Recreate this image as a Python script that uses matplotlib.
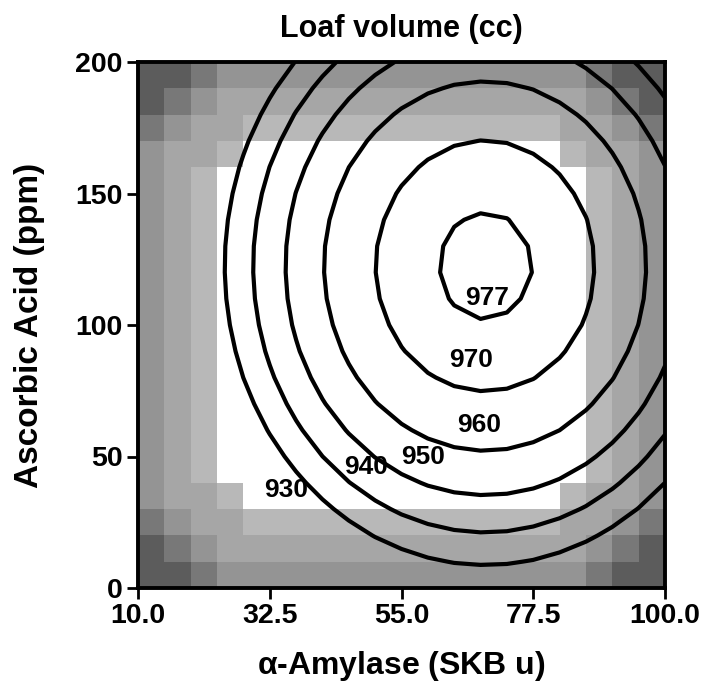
import numpy as np
import matplotlib
matplotlib.use("Agg")
import matplotlib.pyplot as plt

# Axis ranges and ticks
amylase_range = [10.0, 100.0]
ascorbic_range = [0.0, 200.0]
x_ticks = [10.0, 32.5, 55.0, 77.5, 100.0]
x_tick_labels = ["10.0", "32.5", "55.0", "77.5", "100.0"]
y_ticks = [0, 50, 100, 150, 200]

# Second-order response surface for loaf volume (cc)
optimum_amylase = 69.3      # SKB u
optimum_ascorbic = 122.4    # ppm
max_volume = 978.6          # cc
curv_amylase = 0.0245       # cc per (SKB u)^2
curv_ascorbic = 0.00376     # cc per ppm^2

# Contour levels and label positions
levels = [930, 940, 950, 960, 970, 977]
label_x = [35.3, 48.9, 58.6, 68.3, 66.9, 69.6]
label_y = [37.3, 46.0, 49.8, 62.0, 86.7, 110.3]

# Background shading: banded grey levels on a 20 x 20 cell grid
n_cells = 20
band_edges = [7.35, 8.3, 9.3, 10.0, 10.7]
band_greys = [1.0, 0.72, 0.65, 0.58, 0.47, 0.36]
band_norm = 4

plt.rcParams["font.family"] = ["Liberation Sans", "DejaVu Sans"]
plt.rcParams["mathtext.default"] = "regular"

fig = plt.figure(figsize=(7.03, 6.92), dpi=100)
ax = fig.add_axes([138 / 703, 1 - 588 / 692, 527 / 703, 526 / 692])

# shading cells
xe = np.linspace(*amylase_range, n_cells + 1)
ye = np.linspace(*ascorbic_range, n_cells + 1)
idx = np.arange(n_cells) - (n_cells - 1) / 2
U, V = np.meshgrid(np.abs(idx), np.abs(idx))
R = (U ** band_norm + V ** band_norm) ** (1 / band_norm)
band = np.digitize(R, band_edges)
grey = np.array(band_greys)[band]
rgb = np.dstack([grey, grey, grey])
ax.pcolormesh(xe, ye, rgb, shading="flat", zorder=0)

# response surface on a coarse grid
gx = np.linspace(*amylase_range, n_cells + 1)
gy = np.linspace(*ascorbic_range, n_cells + 1)
GX, GY = np.meshgrid(gx, gy)
Z = (max_volume
     - curv_amylase * (GX - optimum_amylase) ** 2
     - curv_ascorbic * (GY - optimum_ascorbic) ** 2)
ax.contour(GX, GY, Z, levels=levels, colors="black", linewidths=3.0, zorder=2)

for lv, lx, ly in zip(levels, label_x, label_y):
    ax.text(lx, ly, str(lv), ha="center", va="center", fontsize=19,
            fontweight="bold", zorder=3)

ax.set_xlim(*amylase_range)
ax.set_ylim(*ascorbic_range)
ax.set_xticks(x_ticks)
ax.set_xticklabels(x_tick_labels)
ax.set_yticks(y_ticks)
ax.tick_params(direction="out", length=8, width=2, labelsize=20.5, pad=3)
for lab in ax.get_xticklabels() + ax.get_yticklabels():
    lab.set_fontweight("bold")
for s in ax.spines.values():
    s.set_linewidth(2.8)

ax.set_title("Loaf volume (cc)", fontsize=22, fontweight="bold", pad=18)
ax.set_xlabel(r"$\alpha$-Amylase (SKB u)", fontsize=23, fontweight="bold", labelpad=14)
ax.set_ylabel("Ascorbic Acid (ppm)", fontsize=24, fontweight="bold")
ax.yaxis.set_label_coords(-0.176, 0.5)

fig.savefig("out.png", dpi=100)
